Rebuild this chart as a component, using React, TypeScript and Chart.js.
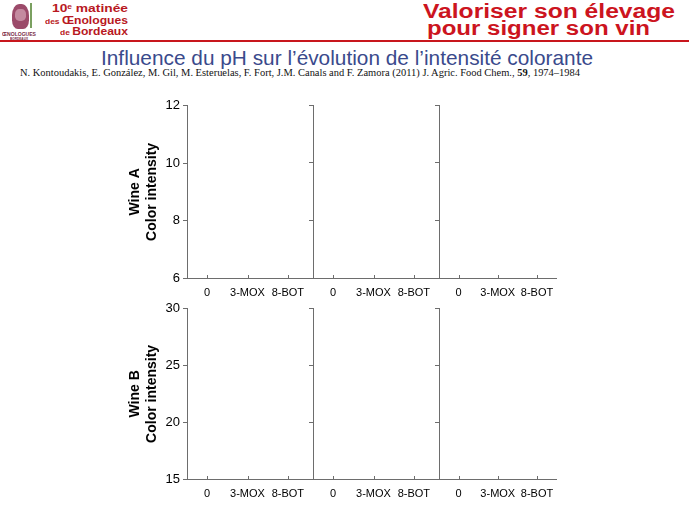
import React, { useEffect, useLayoutEffect, useRef } from 'react';
import { Chart, registerables } from 'chart.js';

Chart.register(...registerables);

// ---------- data ----------
const categories: string[] = ['0', '3-MOX', '8-BOT'];
const rowTitles: string[][] = [
  ['Wine A', 'Color intensity'],
  ['Wine B', 'Color intensity'],
];
const wineATicks: number[] = [6, 8, 10, 12];
const wineBTicks: number[] = [15, 20, 25, 30];
// the panels of the reference show no plotted marks
const wineAValues: (number | null)[][] = [
  [null, null, null],
  [null, null, null],
  [null, null, null],
];
const wineBValues: (number | null)[][] = [
  [null, null, null],
  [null, null, null],
  [null, null, null],
];

// ---------- style ----------
const SANS = '"Liberation Sans", Arial, Helvetica, sans-serif';
const SERIF = '"Liberation Serif", "Times New Roman", serif';
const AXIS = '#6d6d6d';
const RED = '#cc1420';
const LOGO_RED = '#b81822';
const BLUE = '#3a4a8c';

const innerTicks = {
  id: 'innerTicks',
  afterDraw(chart: any) {
    const xs = chart.scales.x;
    const ctx = chart.ctx;
    ctx.save();
    ctx.strokeStyle = AXIS;
    ctx.lineWidth = 1;
    xs.ticks.forEach((_: any, i: number) => {
      const px = Math.round(xs.getPixelForTick(i)) + 0.5;
      ctx.beginPath();
      ctx.moveTo(px, xs.top);
      ctx.lineTo(px, xs.top - 3);
      ctx.stroke();
    });
    ctx.restore();
  },
};

type PanelProps = {
  left: number;
  top: number;
  width: number;
  height: number;
  yWidth: number;
  ticks: number[];
  values: (number | null)[];
  showLabels: boolean;
  title: string[];
};

function Panel({ left, top, width, height, yWidth, ticks, values, showLabels, title }: PanelProps) {
  const ref = useRef<HTMLCanvasElement>(null);
  useEffect(() => {
    if (!ref.current) return;
    const chart = new Chart(ref.current, {
      type: 'line',
      data: {
        labels: categories,
        datasets: [
          {
            data: values,
            borderColor: '#000',
            backgroundColor: '#000',
            pointRadius: 3,
          },
        ],
      },
      options: {
        animation: false,
        responsive: false,
        devicePixelRatio: 1,
        layout: { padding: { top: 10, right: 0, bottom: 0, left: 0 } },
        plugins: {
          legend: { display: false },
          tooltip: { enabled: false },
          title: { display: false },
        },
        scales: {
          x: {
            type: 'category',
            offset: true,
            grid: { display: false, drawTicks: false, offset: false },
            border: { display: true, color: AXIS, width: 1 },
            ticks: {
              color: '#000',
              font: { family: SANS, size: 11 },
              padding: 8,
              maxRotation: 0,
              autoSkip: false,
            },
            afterFit: (s: any) => {
              s.height = 24;
            },
          },
          y: {
            type: 'linear',
            min: ticks[0],
            max: ticks[ticks.length - 1],
            afterBuildTicks: (s: any) => {
              s.ticks = ticks.map((v) => ({ value: v }));
            },
            grid: {
              display: true,
              drawOnChartArea: false,
              drawTicks: true,
              tickLength: 4,
              color: AXIS,
            },
            border: { display: true, color: AXIS, width: 1 },
            ticks: {
              display: showLabels,
              color: '#000',
              font: { family: SANS, size: 13 },
              padding: 3,
            },
            title: {
              display: showLabels,
              text: title,
              color: '#000',
              font: { family: SANS, size: 14, weight: 'bold', lineHeight: 1.2 },
              padding: { top: 7, bottom: 0 },
            },
            afterFit: (s: any) => {
              s.width = yWidth;
            },
          },
        },
      } as any,
      plugins: [innerTicks],
    });
    return () => chart.destroy();
  }, []);
  return (
    <canvas
      ref={ref}
      width={width}
      height={height}
      style={{ position: 'absolute', left, top, width, height }}
    />
  );
}

type FitProps = {
  left: number;
  top: number;
  width: number;
  size: number;
  family: string;
  weight?: string | number;
  color: string;
  children: React.ReactNode;
};

function FitText({ left, top, width, size, family, weight = 'normal', color, children }: FitProps) {
  const ref = useRef<HTMLSpanElement>(null);
  useLayoutEffect(() => {
    const el = ref.current;
    if (!el) return;
    el.style.transform = 'none';
    const w = el.getBoundingClientRect().width;
    if (w > 0) el.style.transform = `scaleX(${width / w})`;
  });
  return (
    <span
      ref={ref}
      style={{
        position: 'absolute',
        left,
        top,
        whiteSpace: 'nowrap',
        fontFamily: family,
        fontSize: size,
        fontWeight: weight as any,
        color,
        lineHeight: 1,
        transformOrigin: '0 0',
        display: 'inline-block',
      }}
    >
      {children}
    </span>
  );
}

// panel geometry (plot areas: columns 187-313, 313-439, 439-562)
const cols = [
  { left: 120, width: 193, yWidth: 67, labels: true },
  { left: 308, width: 131, yWidth: 5, labels: false },
  { left: 434, width: 128, yWidth: 5, labels: false },
];
const rows = [
  { top: 95, height: 207, ticks: wineATicks, values: wineAValues, title: rowTitles[0] },
  { top: 298, height: 205, ticks: wineBTicks, values: wineBValues, title: rowTitles[1] },
];

export default function App() {
  return (
    <div
      style={{
        position: 'absolute',
        left: 0,
        top: 0,
        width: 689,
        height: 517,
        background: '#fff',
        overflow: 'hidden',
      }}
    >
      {/* logo */}
      <div style={{ position: 'absolute', left: 12, top: 4, width: 17, height: 25, background: '#9c4a6a', borderRadius: '45% 45% 35% 35%' }} />
      <div style={{ position: 'absolute', left: 15, top: 9, width: 11, height: 12, background: '#c48aa0', borderRadius: '40%' }} />
      <div style={{ position: 'absolute', left: 30, top: 3, width: 2, height: 25, background: '#7aa060' }} />
      <FitText left={2} top={31} width={34} size={6} family={SANS} weight="bold" color="#7a2a44">ŒNOLOGUES</FitText>
      <FitText left={10} top={37} width={18} size={4} family={SANS} weight="bold" color="#7a2a44">BORDEAUX</FitText>

      <FitText left={52} top={3} width={76} size={11.5} family={SANS} weight="bold" color={LOGO_RED}>
        10<sup style={{ fontSize: 7, verticalAlign: 'top' }}>e</sup> matinée
      </FitText>
      <FitText left={45} top={15.3} width={83} size={11.5} family={SANS} weight="bold" color={LOGO_RED}>
        <span style={{ fontSize: 8 }}>des </span>Œnologues
      </FitText>
      <FitText left={60} top={26.3} width={68} size={11.5} family={SANS} weight="bold" color={LOGO_RED}>
        <span style={{ fontSize: 8 }}>de </span>Bordeaux
      </FitText>

      {/* header title */}
      <FitText left={423} top={0.6} width={252} size={20} family={SANS} weight="bold" color={RED}>
        Valoriser son élevage
      </FitText>
      <FitText left={427} top={17.8} width={223} size={20} family={SANS} weight="bold" color={RED}>
        pour signer son vin
      </FitText>
      <div style={{ position: 'absolute', left: 0, top: 40, width: 689, height: 2, background: '#c8161d' }} />

      {/* slide title */}
      <FitText left={101} top={47.2} width={492} size={21} family={SANS} color={BLUE}>
        Influence du pH sur l’évolution de l’intensité colorante
      </FitText>
      <FitText left={20} top={67.6} width={560} size={10.6} family={SERIF} color="#111">
        N. Kontoudakis, E. González, M. Gil, M. Esteruelas, F. Fort, J.M. Canals and F. Zamora (2011) J. Agric. Food Chem., <b>59</b>, 1974–1984
      </FitText>

      {rows.map((r, ri) =>
        cols.map((c, ci) => (
          <Panel
            key={`${ri}-${ci}`}
            left={c.left}
            top={r.top}
            width={c.width}
            height={r.height}
            yWidth={c.yWidth}
            ticks={r.ticks}
            values={r.values[ci]}
            showLabels={c.labels}
            title={r.title}
          />
        ))
      )}
    </div>
  );
}
